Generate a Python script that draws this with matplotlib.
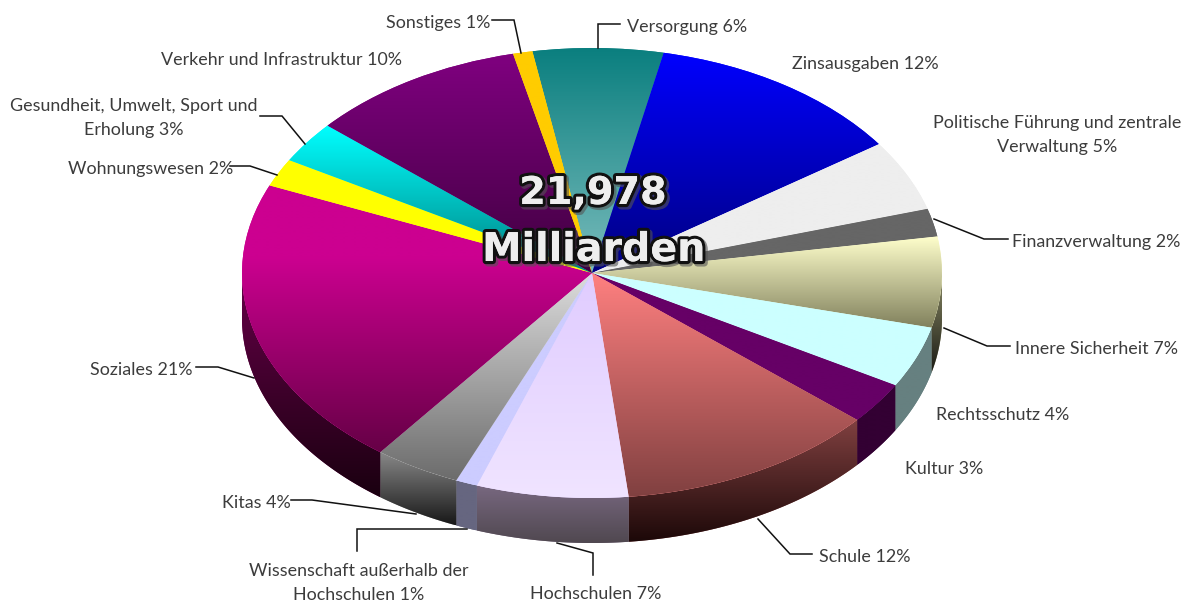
import numpy as np
import matplotlib
matplotlib.use("Agg")
import matplotlib.pyplot as plt
import matplotlib.patheffects as pe
from matplotlib.colors import LinearSegmentedColormap
from matplotlib.patches import Polygon
from matplotlib.transforms import Affine2D

# shares, clockwise from Versorgung
names = ["Versorgung", "Zinsausgaben", "Politische Führung und zentrale\nVerwaltung",
         "Finanzverwaltung", "Innere Sicherheit", "Rechtsschutz", "Kultur", "Schule",
         "Hochschulen", "Wissenschaft außerhalb der\nHochschulen", "Kitas", "Soziales",
         "Wohnungswesen", "Gesundheit, Umwelt, Sport und\nErholung",
         "Verkehr und Infrastruktur", "Sonstiges"]
shares = [6, 12.0, 5.1, 2, 6.5, 4.4, 3, 12, 7, 1, 4, 21, 2, 3, 10, 0.9]
percent_labels = [6, 12, 5, 2, 7, 4, 3, 12, 7, 1, 4, 21, 2, 3, 10, 1]

# gradient colours, top of slice -> bottom of slice
top_start = ["#0a7f7f", "#0000ff", "#eeeeee", "#666666", "#ffffcc", "#ccffff", "#660066", "#ff8080",
             "#e0ccff", "#ccccff", "#dddddd", "#cc0090", "#ffff00", "#00ffff", "#800080", "#ffcc00"]
top_end = ["#7abcbc", "#000080", "#eeeeee", "#666666", "#80805c", "#ccffff", "#660066", "#804040",
           "#f0e4ff", "#ccccff", "#6c6c6c", "#660046", "#ffff00", "#008080", "#400040", "#ffcc00"]
# part of the slice height that stays at the start colour
top_hold = [0, 0, 0, 0, 0, 0, 0, 0, 0, 0, 0, 0.27, 0, 0, 0, 0]
wall_start = ["#008080", "#0000ff", "#eeeeee", "#666666", "#8a8a66", "#668080", "#330033", "#804040",
              "#786880", "#666680", "#8a8a8a", "#660048", "#ffff00", "#00ffff", "#800080", "#ffcc00"]
wall_end = ["#004040", "#000080", "#777777", "#333333", "#1a1a14", "#668080", "#330033", "#1c0808",
            "#504850", "#666680", "#181818", "#1a0010", "#808000", "#008080", "#400040", "#806600"]

# label layout in pixels: text x, y, alignment
label_pos = [(627, 27, "left"), (792, 64, "left"), (1057, 135, "center"), (1012, 242, "left"),
             (1015, 349, "left"), (936, 415, "left"), (905, 469, "left"), (819, 557, "left"),
             (530, 594, "left"), (359, 583, "center"), (222, 503, "left"), (90, 370, "left"),
             (68, 169, "left"), (134, 118, "center"), (161, 60, "left"), (386, 23, "left")]

leaders = [[(620, 24), (598, 24), (598, 48)],
           [(934, 219), (984, 239), (1008, 239)],
           [(944, 328), (987, 346), (1010, 346)],
           [(758, 519), (790, 554), (812, 554)],
           [(557, 543), (593, 553), (593, 575)],
           [(467, 529), (357, 529), (357, 551)],
           [(416, 514), (312, 500), (291, 500)],
           [(254, 378), (218, 367), (196, 367)],
           [(277, 175), (250, 166), (230, 166)],
           [(305, 144), (282, 116), (260, 116)],
           [(521, 53), (514, 20), (492, 20)]]

cx, cy = 592, 273
rx, ry = 350, 225
depth = 45

fig = plt.figure(figsize=(11.84, 6.02), dpi=100)
ax = fig.add_axes([0, 0, 1, 1])

ellipse = Affine2D().scale(rx, -ry).translate(cx, cy)
wedges, _ = ax.pie(shares, colors=top_start, startangle=99.8, counterclock=False, radius=1, center=(0, 0))
ax.set_aspect("auto")


def arc(t1, t2, dy=0):
    t = np.deg2rad(np.linspace(t1, t2, 200))
    return np.column_stack([cx + rx * np.cos(t), cy - ry * np.sin(t) + dy])


def gradient(c0, c1, y0, y1, clip, hold=0):
    cmap = LinearSegmentedColormap.from_list("g", [(0, c0), (hold, c0), (1, c1)] if hold else [c0, c1])
    im = ax.imshow(np.linspace(0, 1, 256)[:, None], cmap=cmap, aspect="auto", zorder=clip.get_zorder() + 0.1,
                   extent=(cx - rx, cx + rx, y1, y0), interpolation="bilinear")
    im.set_clip_path(clip)


# side walls, only the front half of the rim shows
for i, w in enumerate(wedges):
    lo, hi = max(w.theta1, -180), min(w.theta2, 0)
    if lo >= hi:
        continue
    front = arc(lo, hi)
    back = arc(lo, hi, depth)[::-1]
    pts = np.vstack([front, back])
    wall = Polygon(pts, closed=True, facecolor=wall_start[i], edgecolor="none", zorder=1)
    ax.add_patch(wall)
    gradient(wall_start[i], wall_end[i], pts[:, 1].min(), pts[:, 1].max(), wall)

# top surface
for i, w in enumerate(wedges):
    w.set_transform(ellipse + ax.transData)
    w.set_zorder(2)
    w.set_edgecolor("none")
    pts = arc(w.theta1, w.theta2)
    gradient(top_start[i], top_end[i], min(pts[:, 1].min(), cy), max(pts[:, 1].max(), cy), w, top_hold[i])

for line in leaders:
    xs, ys = zip(*line)
    ax.plot(xs, ys, color="#111111", lw=1.1, zorder=4, solid_joinstyle="miter")

for name, pct, (x, y, ha) in zip(names, percent_labels, label_pos):
    ax.text(x, y, f"{name} {pct}%", ha=ha, va="center", multialignment="center", family="Lato",
            fontsize=12.9, color="#3c3c3c", linespacing=1.65, zorder=5)

# centre total
effects = [pe.withStroke(linewidth=4.5, foreground="#111111"), pe.Normal()]
shadow = [pe.Stroke(linewidth=5, foreground="#555555", offset=(1.5, -1.5), alpha=0.6)] + effects
ax.text(593, 194, "21,978", ha="center", va="center", fontsize=27.5, fontweight="bold", family="DejaVu Sans",
        color="#eeeeee", path_effects=shadow, zorder=6)
ax.text(594, 250, "Milliarden", ha="center", va="center", fontsize=28.5, fontweight="bold", family="DejaVu Sans",
        color="#eeeeee", path_effects=shadow, zorder=6)

ax.set_xlim(0, 1184)
ax.set_ylim(602, 0)
ax.axis("off")
fig.savefig("out.png", dpi=100)
